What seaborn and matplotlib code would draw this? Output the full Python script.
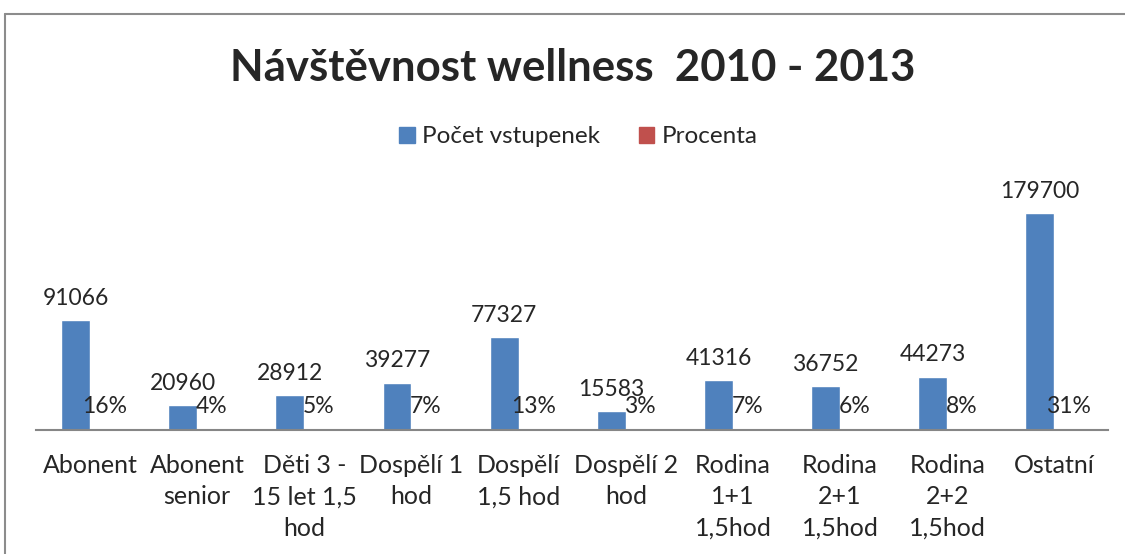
import numpy as np
import pandas as pd
import matplotlib.pyplot as plt
import seaborn as sns
from matplotlib.patches import Patch
from matplotlib.lines import Line2D

kategorie = ["Abonent", "Abonent\nsenior", "Děti 3 -\n15 let 1,5\nhod", "Dospělí 1\nhod",
             "Dospělí\n1,5 hod", "Dospělí 2\nhod", "Rodina\n1+1\n1,5hod", "Rodina\n2+1\n1,5hod",
             "Rodina\n2+2\n1,5hod", "Ostatní"]
pocet = [91066, 20960, 28912, 39277, 77327, 15583, 41316, 36752, 44273, 179700]
procenta = [0.16, 0.04, 0.05, 0.07, 0.13, 0.03, 0.07, 0.06, 0.08, 0.31]
serie = ["Počet vstupenek", "Procenta"]
barvy = ["#4F81BD", "#C0504D"]

df = pd.DataFrame({
    "kategorie": kategorie * 2,
    "serie": [serie[0]] * len(kategorie) + [serie[1]] * len(kategorie),
    "hodnota": pocet + procenta,
})

sns.set_style("white")
plt.rcParams["font.family"] = ["Lato", "DejaVu Sans"]

fig = plt.figure(figsize=(11.25, 5.54), dpi=100)
W, H = 1125, 554
ax = fig.add_axes([36.4 / W, 124 / H, (1108 - 36.4) / W, 241.5 / H])

sns.barplot(data=df, x="kategorie", y="hodnota", hue="serie", palette=barvy,
            width=0.54, saturation=1, ax=ax, legend=False)
ax.set_ylim(0, 200000)
ax.set_xlim(-0.5, 9.5)

ax.bar_label(ax.containers[0], labels=[str(v) for v in pocet], padding=8, fontsize=16.5)
ax.bar_label(ax.containers[1], labels=[f"{round(v * 100)}%" for v in procenta],
             padding=9, fontsize=16.5)

ax.set_xlabel("")
ax.set_ylabel("")
ax.set_yticks([])
ax.tick_params(axis="x", length=0, labelsize=18, pad=17)
for lbl in ax.get_xticklabels():
    lbl.set_linespacing(1.45)
for s in ["left", "right", "top"]:
    ax.spines[s].set_visible(False)
ax.spines["bottom"].set_color("#868686")
ax.spines["bottom"].set_linewidth(1.5)

fig.text(0.509, 0.877, "Návštěvnost wellness  2010 - 2013", ha="center", va="center",
         fontsize=31.5, fontweight="bold")

handles = [Patch(color=c) for c in barvy]
fig.legend(handles, serie, loc="center", bbox_to_anchor=(0.514, 0.753), ncol=2,
           frameon=False, fontsize=17.5, handlelength=0.65, handleheight=0.65,
           handletextpad=0.3, columnspacing=1.6)

# okraj grafu (pravá a spodní strana jsou mimo obrázek)
x0, y0 = 4.5 / W, 1 - 13.5 / H
fig.add_artist(Line2D([x0, 1.0], [y0, y0], transform=fig.transFigure,
                      color="#8c8c8c", linewidth=1.5))
fig.add_artist(Line2D([x0, x0], [y0, 0.0], transform=fig.transFigure,
                      color="#8c8c8c", linewidth=1.5))

fig.savefig("out.png", dpi=100)
